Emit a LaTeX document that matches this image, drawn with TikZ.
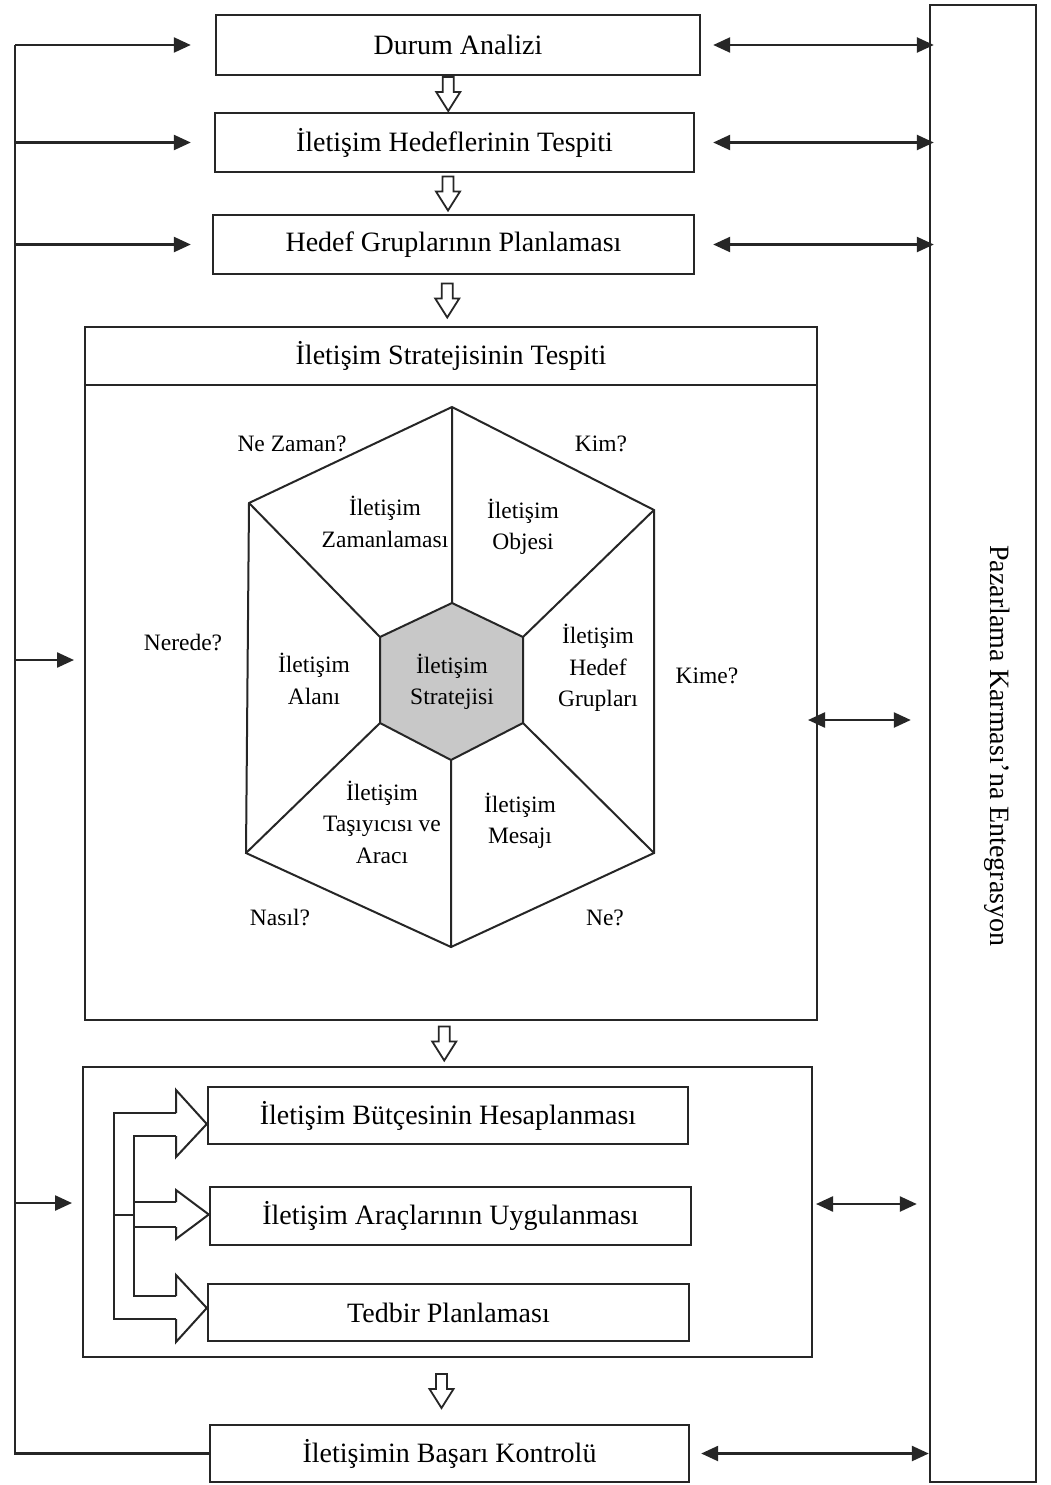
\documentclass[tikz,border=0pt]{standalone}
\usepackage{fontspec}
\setmainfont{Liberation Serif}
\usetikzlibrary{arrows.meta,calc}
\definecolor{ink}{HTML}{262626}
\definecolor{hexgray}{HTML}{C8C8C8}
\newcommand\mybigf{\fontsize{28}{34}\selectfont}
\newcommand\mysmallf{\fontsize{23.5}{31.5}\selectfont}
\begin{document}
\begin{tikzpicture}[x=1pt,y=-1pt,
  ln/.style={draw=ink,line width=2.4pt},
  thin/.style={draw=ink,line width=2pt},
  box/.style={draw=ink,line width=2.4pt,rectangle,inner sep=0pt,font=\mybigf,text=black},
  lbl/.style={font=\mysmallf,align=center,text=black,inner sep=0pt},
  inarr/.style={draw=ink,line width=2.4pt,-{Triangle[length=17pt,width=15pt]}},
  dblarr/.style={draw=ink,line width=2.4pt,{Triangle[length=17pt,width=15pt]}-{Triangle[length=17pt,width=15pt]}},
  hdown/.pic={\draw[draw=ink,line width=1.8pt,fill=white]
     (-5.5,-17) -- (5.5,-17) -- (5.5,-2) -- (12,-2) -- (0,17) -- (-12,-2) -- (-5.5,-2) -- cycle;}
]
\useasboundingbox (0,0) rectangle (1051,1485);
\fill[white] (0,0) rectangle (1051,1485);

% right tall box
\node[box,minimum width=106,minimum height=1477] (pk) at (983,743.5) {};
\node[font=\mybigf,rotate=-90,inner sep=0pt] (pktext) at (997,746) {Pazarlama Karması’na Entegrasyon};

% top boxes
\node[box,minimum width=484,minimum height=60] (durum) at (458,45) {Durum Analizi};
\node[box,minimum width=479,minimum height=59] (hedefler) at (454.5,142.5) {İletişim Hedeflerinin Tespiti};
\node[box,minimum width=481,minimum height=59] (gruplar) at (453.5,244.5) {Hedef Gruplarının Planlaması};

% strategy box
\node[box,minimum width=732,minimum height=693] (strat) at (451,673.5) {};
\coordinate (hdr) at (0,385);
\draw[ln] (strat.west |- hdr) -- (strat.east |- hdr);
\node[font=\mybigf,inner sep=0pt] (strattitle) at (451,356) {İletişim Stratejisinin Tespiti};

% hexagon
\coordinate (oT) at (452,407);
\coordinate (oUR) at (654,510);
\coordinate (oLR) at (654,853);
\coordinate (oB) at (451,947);
\coordinate (oLL) at (246,853);
\coordinate (oUL) at (249,503);
\coordinate (iT) at (452,603);
\coordinate (iUR) at (523,637);
\coordinate (iLR) at (523,723);
\coordinate (iB) at (451,760);
\coordinate (iLL) at (380,723);
\coordinate (iUL) at (380,637);
\draw[thin,line join=miter] (oT)--(oUR)--(oLR)--(oB)--(oLL)--(oUL)--cycle;
\draw[thin,fill=hexgray] (iT)--(iUR)--(iLR)--(iB)--(iLL)--(iUL)--cycle;
\draw[thin] (oT)--(iT) (oUR)--(iUR) (oLR)--(iLR) (oB)--(iB) (oLL)--(iLL) (oUL)--(iUL);

\node[lbl] (q1) at (292,444) {Ne Zaman?};
\node[lbl] (q2) at (601,444) {Kim?};
\node[lbl] (q3) at (183,643) {Nerede?};
\node[lbl] (q4) at (707,676) {Kime?};
\node[lbl] (q5) at (280,918) {Nasıl?};
\node[lbl] (q6) at (605,918) {Ne?};

\node[lbl] (s1) at (385,522) {İletişim\\Zamanlaması};
\node[lbl] (s2) at (523,527) {İletişim\\Objesi};
\node[lbl] (s3) at (314,679) {İletişim\\Alanı};
\node[lbl] (s4) at (452,682) {İletişim\\Stratejisi};
\node[lbl] (s5) at (598,668) {İletişim\\Hedef\\Grupları};
\node[lbl] (s6) at (382,822) {İletişim\\Taşıyıcısı ve\\Aracı};
\node[lbl] (s7) at (520,821) {İletişim\\Mesajı};

% group box
\node[box,minimum width=729,minimum height=290] (grp) at (447.5,1212) {};
\node[box,minimum width=480,minimum height=57] (butce) at (448,1115.5) {İletişim Bütçesinin Hesaplanması};
\node[box,minimum width=481,minimum height=58] (araclar) at (450.5,1216) {İletişim Araçlarının Uygulanması};
\node[box,minimum width=481,minimum height=57] (tedbir) at (448.5,1312.5) {Tedbir Planlaması};

% branching hollow arrows
\draw[thin,line join=miter] (176,1113) -- (114,1113) -- (114,1319) -- (176,1319);
\draw[thin] (176,1136) -- (134,1136) -- (134,1296) -- (176,1296);
\draw[thin] (134,1202) -- (176,1202) (134,1227) -- (176,1227) (114,1214.5) -- (134,1214.5);
\draw[thin,line join=miter] (176,1113) -- (176,1090) -- (butce.west |- 0,1124) -- (176,1157) -- (176,1136);
\draw[thin,line join=miter] (176,1202) -- (176,1190) -- (araclar.west |- 0,1214.5) -- (176,1239) -- (176,1227);
\draw[thin,line join=miter] (176,1296) -- (176,1275) -- (tedbir.west |- 0,1308) -- (176,1342) -- (176,1319);

% bottom box
\node[box,minimum width=479,minimum height=57] (basari) at (449.5,1453.5) {İletişimin Başarı Kontrolü};

% hollow down arrows
\pic at ($(durum.south)!0.5!(hedefler.north)+(-8,0)$) {hdown};
\pic at ($(hedefler.south)!0.5!(gruplar.north)+(-6,0)$) {hdown};
\pic at ($(gruplar.south)!0.5!(strat.north)+(-5,0)$) {hdown};
\pic at ($(strat.south)!0.5!(grp.north)+(-5,0)$) {hdown};
\pic at ($(grp.south)!0.5!(basari.north)+(-7,0)$) {hdown};

% left feedback line
\coordinate (LB) at (15,1453.5);
\coordinate (LT) at (15,45);
\draw[ln] (basari.west) -- (LB) -- (LT);
\draw[inarr,shorten >=24pt] (LT) -- (durum.west);
\draw[inarr,shorten >=23pt] (hedefler.west -| LB) -- (hedefler.west);
\draw[inarr,shorten >=21pt] (gruplar.west -| LB) -- (gruplar.west);
\coordinate (sIn) at (85,660);
\draw[inarr,shorten >=11pt] (sIn -| LB) -- (sIn);
\coordinate (gIn) at (83,1203);
\draw[inarr,shorten >=11pt] (gIn -| LB) -- (gIn);

% right double arrows
\draw[dblarr,shorten <=12pt,shorten >=-5pt] (durum.east) -- (durum.east -| pk.west);
\draw[dblarr,shorten <=18pt,shorten >=-5pt] (hedefler.east) -- (hedefler.east -| pk.west);
\draw[dblarr,shorten <=18pt,shorten >=-5pt] (gruplar.east) -- (gruplar.east -| pk.west);
\coordinate (sOut) at (817,720);
\draw[dblarr,shorten <=-9pt,shorten >=18pt] (sOut) -- (sOut -| pk.west);
\coordinate (gOut) at (812,1204);
\draw[dblarr,shorten <=4pt,shorten >=12pt] (gOut) -- (gOut -| pk.west);
\draw[dblarr,shorten <=11pt] (basari.east) -- (basari.east -| pk.west);
\end{tikzpicture}
\end{document}
